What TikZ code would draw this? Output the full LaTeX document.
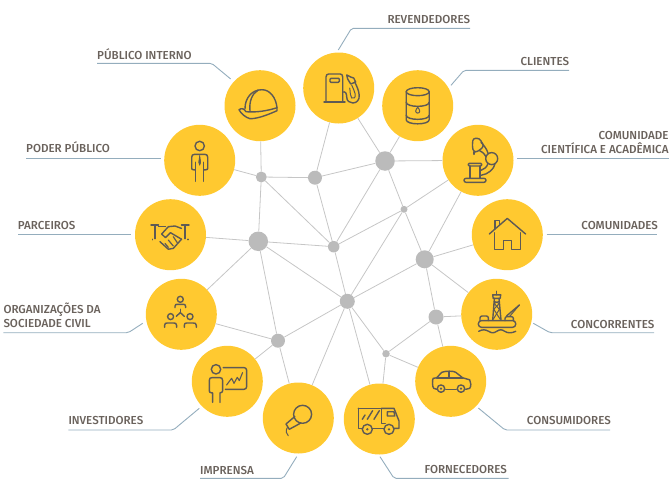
\documentclass[tikz,border=0pt]{standalone}
\usepackage{fontspec}
\setmainfont{Fira Sans}[UprightFont=* Medium]
\definecolor{sun}{HTML}{FFC930}
\definecolor{hubgray}{HTML}{BBBBBB}
\definecolor{linkgray}{HTML}{C6C6C6}
\definecolor{leaderblue}{HTML}{94ADBD}
\definecolor{labelgray}{HTML}{6A625C}
\definecolor{icongray}{HTML}{5E5A55}
\tikzset{
	party/.style={circle, fill=sun, inner sep=0pt, minimum size=71pt},
	hub/.style={circle, fill=hubgray, inner sep=0pt, minimum size=#1},
	link/.style={draw=linkgray, line width=0.8pt},
	leader/.style={draw=leaderblue, line width=0.9pt, rounded corners=2pt},
	caption/.style={font=\fontsize{11.6}{14}\selectfont, text=labelgray, inner sep=0pt},
	icon/.style={draw=icongray, line width=1.4pt, line cap=round, line join=round},
	thinicon/.style={icon, line width=1pt}
}
\begin{document}
\begin{tikzpicture}[x=1pt, y=-1pt]
	\useasboundingbox (0,0) rectangle (672,498);

	\node[party] (helmet) at (260.00,105.70) {};
	\node[party] (person) at (199.70,160.30) {};
	\node[party] (shake) at (170.50,234.70) {};
	\node[party] (pump) at (338.70,88.00) {};
	\node[party] (barrel) at (417.70,105.70) {};
	\node[party] (scope) at (478.00,160.30) {};
	\node[party] (house) at (507.30,234.70) {};
	\node[party] (rig) at (496.70,314.30) {};
	\node[party] (car) at (450.70,381.30) {};
	\node[party] (group) at (181.30,314.30) {};
	\node[party] (board) at (227.30,381.30) {};
	\node[party] (mic) at (298.30,418.00) {};
	\node[party] (truck) at (379.30,419.00) {};

	\node[hub=11pt] (hubA) at (261.30,177.00) {};
	\node[hub=14pt] (hubB) at (315.00,177.70) {};
	\node[hub=19.5pt] (hubC) at (385.00,161.00) {};
	\node[hub=7pt] (hubD) at (404.00,209.30) {};
	\node[hub=19.5pt] (hubE) at (258.30,241.30) {};
	\node[hub=11.5pt] (hubF) at (333.70,246.70) {};
	\node[hub=18pt] (hubG) at (424.70,259.30) {};
	\node[hub=15pt] (hubH) at (347.30,301.30) {};
	\node[hub=15pt] (hubI) at (436.00,317.00) {};
	\node[hub=14pt] (hubJ) at (278.00,340.70) {};
	\node[hub=7.5pt] (hubK) at (386.00,353.70) {};

	\draw[link] (helmet) -- (hubA);
	\draw[link] (person) -- (hubA);
	\draw[link] (hubA) -- (hubB);
	\draw[link] (hubA) -- (hubE);
	\draw[link] (hubA) -- (hubF);
	\draw[link] (hubB) -- (pump);
	\draw[link] (hubB) -- (hubC);
	\draw[link] (hubB) -- (hubF);
	\draw[link] (hubC) -- (pump);
	\draw[link] (hubC) -- (barrel);
	\draw[link] (hubC) -- (scope);
	\draw[link] (hubC) -- (hubF);
	\draw[link] (hubC) -- (hubD);
	\draw[link] (hubD) -- (scope);
	\draw[link] (hubD) -- (hubF);
	\draw[link] (hubD) -- (hubG);
	\draw[link] (hubD) -- (hubH);
	\draw[link] (hubG) -- (scope);
	\draw[link] (hubG) -- (house);
	\draw[link] (hubG) -- (rig);
	\draw[link] (hubG) -- (hubH);
	\draw[link] (hubG) -- (hubI);
	\draw[link] (hubI) -- (rig);
	\draw[link] (hubI) -- (car);
	\draw[link] (hubI) -- (hubK);
	\draw[link] (hubK) -- (car);
	\draw[link] (hubK) -- (truck);
	\draw[link] (hubK) -- (hubH);
	\draw[link] (hubH) -- (truck);
	\draw[link] (hubH) -- (mic);
	\draw[link] (hubH) -- (hubJ);
	\draw[link] (hubH) -- (hubF);
	\draw[link] (hubH) -- (hubE);
	\draw[link] (hubE) -- (hubF);
	\draw[link] (hubE) -- (shake);
	\draw[link] (hubE) -- (group);
	\draw[link] (hubE) -- (hubJ);
	\draw[link] (hubJ) -- (group);
	\draw[link] (hubJ) -- (board);
	\draw[link] (hubJ) -- (mic);

	\node[caption, anchor=base west] at (387.30,23.30) {REVENDEDORES};
	\node[caption, anchor=base east] at (569.30,65.30) {CLIENTES};
	\node[caption, anchor=base west] at (97.00,59.30) {PÚBLICO INTERNO};
	\node[caption, anchor=base west] at (26.00,152.30) {PODER PÚBLICO};
	\node[caption, anchor=base east, align=right] at (668.70,153.30) {COMUNIDADE\\CIENTÍFICA E ACADÊMICA};
	\node[caption, anchor=base east] at (658.00,229.30) {COMUNIDADES};
	\node[caption, anchor=base west] at (17.70,229.30) {PARCEIROS};
	\node[caption, anchor=base west, align=left] at (3.30,327.30) {ORGANIZAÇÕES DA\\SOCIEDADE CIVIL};
	\node[caption, anchor=base east] at (654.50,328.30) {CONCORRENTES};
	\node[caption, anchor=base west] at (68.30,424.00) {INVESTIDORES};
	\node[caption, anchor=base east] at (611.00,424.30) {CONSUMIDORES};
	\node[caption, anchor=base west] at (200.00,474.30) {IMPRENSA};
	\node[caption, anchor=base east] at (507.00,473.30) {FORNECEDORES};

	\coordinate (revendedoresA) at (338.30,50.00);
	\coordinate (revendedoresB) at (351.50,28.30);
	\coordinate (revendedoresC) at (470.00,28.30);
	\coordinate (clientesA) at (451.00,85.30);
	\coordinate (clientesB) at (464.00,70.30);
	\coordinate (clientesC) at (569.00,70.30);
	\coordinate (internoA) at (230.70,79.00);
	\coordinate (internoB) at (211.70,63.30);
	\coordinate (internoC) at (97.00,63.30);
	\coordinate (poderA) at (160.70,158.00);
	\coordinate (poderC) at (26.00,158.00);
	\coordinate (cientificaA) at (517.30,158.30);
	\coordinate (cientificaC) at (668.70,158.30);
	\coordinate (comunidadesA) at (546.70,234.00);
	\coordinate (comunidadesC) at (657.30,234.00);
	\coordinate (parceirosA) at (130.70,234.30);
	\coordinate (parceirosC) at (17.70,234.30);
	\coordinate (civilA) at (142.70,323.30);
	\coordinate (civilB) at (128.30,332.70);
	\coordinate (civilC) at (3.30,332.70);
	\coordinate (concorrentesA) at (533.30,323.30);
	\coordinate (concorrentesB) at (550.00,332.70);
	\coordinate (concorrentesC) at (654.00,332.70);
	\coordinate (investidoresA) at (199.30,408.30);
	\coordinate (investidoresB) at (173.30,430.00);
	\coordinate (investidoresC) at (68.30,430.00);
	\coordinate (consumidoresA) at (478.30,408.00);
	\coordinate (consumidoresB) at (505.00,430.00);
	\coordinate (consumidoresC) at (610.00,430.00);
	\coordinate (imprensaA) at (296.70,456.70);
	\coordinate (imprensaB) at (283.30,478.30);
	\coordinate (imprensaC) at (200.00,478.30);
	\coordinate (fornecedoresA) at (380.00,456.70);
	\coordinate (fornecedoresB) at (394.00,478.30);
	\coordinate (fornecedoresC) at (508.70,478.30);

	\draw[leader] (revendedoresA) -- (revendedoresB) -- (revendedoresC);
	\draw[leader] (clientesA) -- (clientesB) -- (clientesC);
	\draw[leader] (internoA) -- (internoB) -- (internoC);
	\draw[leader] (poderA) -- (poderC);
	\draw[leader] (cientificaA) -- (cientificaC);
	\draw[leader] (comunidadesA) -- (comunidadesC);
	\draw[leader] (parceirosA) -- (parceirosC);
	\draw[leader] (civilA) -- (civilB) -- (civilC);
	\draw[leader] (concorrentesA) -- (concorrentesB) -- (concorrentesC);
	\draw[leader] (investidoresA) -- (investidoresB) -- (investidoresC);
	\draw[leader] (consumidoresA) -- (consumidoresB) -- (consumidoresC);
	\draw[leader] (imprensaA) -- (imprensaB) -- (imprensaC);
	\draw[leader] (fornecedoresA) -- (fornecedoresB) -- (fornecedoresC);

	\begin{scope}[shift={(helmet)}]
		\draw[icon] (-15,3) .. controls (-15,-8) and (-8,-16) .. (2,-16) .. controls (10,-16) and (16,-8) .. (17,2);
		\draw[icon] (-10,5) .. controls (-11,-4) and (-8,-12) .. (-2,-15.5);
		\draw[icon] (-21,4) .. controls (-18,2) and (-16,3) .. (-14,6) .. controls (-4,7) and (8,5) .. (17,2) -- (17,5) .. controls (8,9) and (-2,13) .. (-10,13) .. controls (-14,12) and (-19,8) .. (-21,4) -- cycle;
	\end{scope}

	\begin{scope}[shift={(person)}]
		\draw[icon] (0,-14.3) circle (4.7);
		\draw[icon] (-4.5,9.5) -- (-6,9.5) .. controls (-7.5,9.5) and (-8,9) .. (-8,8) -- (-8,-3) .. controls (-8,-5) and (-7,-6) .. (-5,-6) -- (5,-6) .. controls (7,-6) and (8,-5) .. (8,-3) -- (8,8) .. controls (8,9) and (7.5,9.5) .. (6,9.5) -- (4,9.5);
		\draw[icon] (-4.5,2) -- (-4.5,21);
		\draw[icon] (4,2) -- (4,21);
		\draw[icon, fill=icongray, line width=0.6pt] (0,-5) -- (1,2) -- (0,5) -- (-1,2) -- cycle;
	\end{scope}

	\begin{scope}[shift={(shake)}]
		\draw[icon] (-19.5,-9.7) -- (-12,-9.7);
		\draw[icon] (-15.5,-9.7) -- (-15.5,4);
		\draw[icon] (11,-9.7) -- (18.5,-9.7);
		\draw[icon] (14.5,-9.7) -- (14.5,4);
		\draw[icon] (-18.3,4.5) -- (-18.3,5);
		\draw[icon] (17.3,4.5) -- (17.3,5);
		\draw[icon] (-12,-8) -- (-5,-8);
		\draw[icon] (11,-6.3) -- (4.5,-8.7) -- (-2.2,-8) -- (-8.8,-0.7) -- (-5,3) -- (0,-2) -- (11,4.5);
		\draw[icon] (-10.5,7) -- (-2.2,14.5) -- (2.8,13.7) -- (11,4.5);
		\draw[icon, line width=1.2pt] (-5.5,8.7) -- (-2.2,12.7);
		\draw[icon, line width=1.2pt] (-2.2,5.3) -- (2.8,11.3);
		\draw[icon, line width=1.2pt] (2.8,2) -- (6.8,8);
	\end{scope}

	\begin{scope}[shift={(pump)}]
		\draw[icon] (-12.7,14) -- (-12.7,-11) .. controls (-12.7,-13) and (-11.5,-14) .. (-10,-14) -- (1.5,-14) .. controls (3,-14) and (4,-13) .. (4,-11) -- (4,14);
		\draw[icon] (-14.7,14) -- (6.3,14);
		\draw[icon, rounded corners=1pt] (-8.7,-9.7) rectangle (0.7,-5.7);
		\draw[icon] (4,4) .. controls (7,3) and (8,6) .. (8,9) .. controls (8,13) and (11,15) .. (14,15) .. controls (18,15) and (21,12) .. (20.5,7) .. controls (20,2) and (18,-2) .. (16,-6);
		\draw[icon, line width=1pt] (11,0) .. controls (12,5) and (11,8) .. (13,10) .. controls (15,11) and (17,10) .. (16.5,6) .. controls (16,3) and (14,0) .. (13,-3);
		\draw[icon] (8,-13) -- (9,-9) -- (12,-4) -- (17,-6) -- (15,-10) -- (12,-11) -- cycle;
	\end{scope}

	\begin{scope}[shift={(barrel)}]
		\draw[icon] (0,-14) ellipse (11.5 and 4);
		\draw[icon] (-11.5,-14) -- (-11.5,14) .. controls (-11.5,19.5) and (11.5,19.5) .. (11.5,14) -- (11.5,-14);
		\draw[icon] (-11.5,-3.5) .. controls (-11.5,2) and (11.5,2) .. (11.5,-3.5);
		\draw[icon] (-11.5,9.5) .. controls (-11.5,15) and (11.5,15) .. (11.5,9.5);
		\draw[icon, line width=1pt] (0,1.5) .. controls (1,3) and (2,4) .. (2,5.5) .. controls (2,8) and (-2,8) .. (-2,5.5) .. controls (-2,4) and (-1,3) .. (0,1.5) -- cycle;
	\end{scope}

	\begin{scope}[shift={(scope)}]
		\draw[icon, rounded corners=2pt] (-14,18) rectangle (8,22);
		\draw[icon, rounded corners=1pt] (-9.7,3) rectangle (3.7,5.7);
		\draw[icon] (-8,5.7) -- (-8,18);
		\draw[icon] (2,5.7) -- (2,18);
		\draw[icon] (13.7,-1.7) circle (6);
		\draw[icon, rounded corners=2.5pt] (-5,-22) -- (1.5,-22) -- (6,-14) -- (-0.5,-8.5) -- (-4.5,-8.5) -- (-5.7,-14) -- cycle;
		\draw[icon] (-4,-8.5) -- (-4,-6);
		\draw[icon] (3,-18) .. controls (6,-15) and (9,-11) .. (10,-7);
		\draw[icon] (1,-10) .. controls (4,-9) and (6,-7) .. (8,-3.5);
		\draw[icon] (17,3.5) .. controls (16,9) and (10,14) .. (3,15);
		\draw[icon] (10,3) .. controls (9,7) and (6,9) .. (3,10);
	\end{scope}

	\begin{scope}[shift={(house)}]
		\draw[icon] (-18,-0.7) -- (0,-16.3) -- (18.3,-0.7);
		\draw[icon] (-12.3,-6) -- (-12.3,-14) -- (-8,-14) -- (-8,-10);
		\draw[icon] (-13,-2) -- (-13,14.7) -- (-4,14.7) -- (-4,6) -- (4.3,6) -- (4.3,14.7) -- (13,14.7) -- (13,-2);
	\end{scope}

	\begin{scope}[shift={(rig)}]
		\draw[icon, rounded corners=3pt] (-18.3,6.3) rectangle (19,13);
		\draw[icon] (-18,17) .. controls (-14,15) and (-12,15) .. (-8,17) .. controls (-5,19) and (-3,19) .. (0,17) .. controls (3,15) and (5,15) .. (8,17) .. controls (11,19) and (15,19) .. (19,17);
		\draw[icon] (-4,5.7) -- (-2.3,-16);
		\draw[icon] (4.3,5.7) -- (2.3,-16);
		\draw[icon] (-3.5,-16) -- (-4,-19.5) -- (4,-19.5) -- (3.5,-16) -- cycle;
		\draw[icon] (0,-23) -- (0,-19.5);
		\draw[icon, line width=1pt] (-3.5,5) -- (2.7,-5) -- (-2.7,-11) -- (2.5,-13);
		\draw[icon, line width=1pt] (3.5,5) -- (-2.9,-5) -- (2.7,-11) -- (-2.5,-13);
		\draw[icon, rounded corners=2pt] (-16.7,6.3) -- (-16.7,1.7) -- (-8.3,1.7) -- (-8.3,6.3);
		\draw[icon, rounded corners=2pt] (8.3,6.3) -- (8.3,2.3) -- (16.7,2.3) -- (16.7,6.3);
		\draw[icon] (10,1.5) -- (22.7,-9.3);
		\draw[icon, line width=1pt] (13,2) -- (22.7,-9.3);
	\end{scope}

	\begin{scope}[shift={(car)}]
		\draw[icon] (-14,8) -- (-17,7) .. controls (-18.5,6) and (-18.5,-2) .. (-17.5,-3) -- (-14,-3.5) -- (-9,-9) .. controls (-5,-10.5) and (3,-10.5) .. (5,-9) -- (12,-3.5) -- (19,-1.5) .. controls (20.5,1) and (20.5,5) .. (19,7) -- (15,8);
		\draw[icon] (-5,8) -- (5.5,8);
		\draw[icon] (-14,-3.5) -- (12,-3.5);
		\draw[icon] (-1.7,-10) -- (-1.7,-3.5);
		\draw[icon] (-9.7,7.3) circle (3.7);
		\draw[icon] (10.3,7.3) circle (3.7);
		\fill[icongray] (-9.7,7.3) circle (1.2);
		\fill[icongray] (10.3,7.3) circle (1.2);
	\end{scope}

	\begin{scope}[shift={(group)}]
		\draw[icon] (-1,-15) circle (3);
		\draw[icon] (-6.3,-6.7) -- (-6.3,-8) .. controls (-6.3,-10) and (-5,-10) .. (-4,-10) -- (2,-10) .. controls (3,-10) and (4.3,-10) .. (4.3,-8) -- (4.3,-6.7);
		\draw[icon] (-10.7,2.3) circle (3);
		\draw[icon] (-16.7,13) -- (-16.7,11) .. controls (-16.7,9) and (-15.5,8.7) .. (-14,8.7) -- (-7.5,8.7) .. controls (-6,8.7) and (-4.7,9) .. (-4.7,11) -- (-4.7,13);
		\draw[icon] (8.7,2.3) circle (3);
		\draw[icon] (3,13) -- (3,11) .. controls (3,9) and (4,8.7) .. (5.5,8.7) -- (12,8.7) .. controls (13.5,8.7) and (15,9) .. (15,11) -- (15,13);
		\draw[icon] (-1,-5) -- (-1,-1.7);
		\draw[icon] (-1,-1.7) -- (-5,2);
		\draw[icon] (-1,-1.7) -- (3,2);
	\end{scope}

	\begin{scope}[shift={(board)}]
		\draw[icon] (-11.3,-12) circle (4.7);
		\draw[icon] (-14.7,21) -- (-14.7,11.5) -- (-16,11.5) .. controls (-17.5,11.5) and (-18,10.5) .. (-18,9.5) -- (-18,-1) .. controls (-18,-3) and (-17,-3.7) .. (-15,-3.7) -- (-7.7,-3.7) .. controls (-5.7,-3.7) and (-4.7,-3) .. (-4.7,-1) -- (-4.7,9.5) .. controls (-4.7,10.5) and (-5.5,11.5) .. (-7,11.5) -- (-7.3,11.5) -- (-7.3,21);
		\draw[icon, rounded corners=2.5pt] (-4,-13.7) -- (19.3,-13.7) -- (19.3,8) -- (-2,8);
		\draw[icon, line width=1.1pt] (-0.7,3.7) -- (4.3,-3) -- (6.7,2) -- (10,-4) -- (12,-0.7) -- (15.3,-8.7);
	\end{scope}

	\begin{scope}[shift={(mic)}]
		\draw[icon] (4.3,-3.7) circle (9);
		\draw[icon] (-3.5,-1.5) -- (-12.3,6) -- (-9,11.3) -- (2.5,5);
		\draw[icon, line width=1pt] (-11,9.5) .. controls (-13,13) and (-12,16) .. (-10,17.7);
	\end{scope}

	\begin{scope}[shift={(truck)}]
		\draw[icon] (-21,-10.7) -- (2.3,-10.7) -- (2.3,4.3) -- (6,4.3);
		\draw[icon] (-21,-10.7) -- (-21,9.3) -- (-17,9.3);
		\draw[icon] (-7,9.3) -- (4.7,9.3);
		\draw[icon] (2.3,-10.7) -- (14.7,-10.7) -- (19.7,2) -- (19.7,9.3) -- (15,9.3);
		\draw[icon] (8,-7.3) -- (14.7,-7.3) -- (15.5,-3) -- (8,-3) -- cycle;
		\draw[icon] (-17,0.3) -- (-14.3,-4);
		\draw[icon] (-12,0.3) -- (-6.7,-8.3);
		\draw[icon] (-5.3,0.3) -- (0,-8.3);
		\draw[icon] (-12,10.3) circle (5);
		\draw[icon] (9.7,10.3) circle (5);
		\fill[icongray] (-12,10.3) circle (1.3);
		\fill[icongray] (9.7,10.3) circle (1.3);
	\end{scope}
\end{tikzpicture}
\end{document}
